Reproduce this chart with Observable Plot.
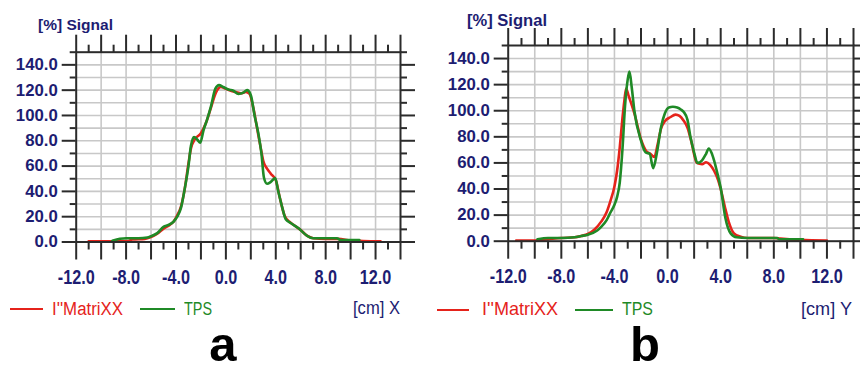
<!DOCTYPE html>
<html>
<head>
<meta charset="utf-8">
<script src="https://cdn.jsdelivr.net/npm/d3@7"></script>
<script src="https://cdn.jsdelivr.net/npm/@observablehq/plot@0.6"></script>
<style>
html, body { margin: 0; padding: 0; background: #fff; }
#wrap { position: relative; width: 860px; height: 372px; overflow: hidden; background: #fff; }
.abs { position: absolute; white-space: nowrap; line-height: 1; transform-origin: 0 50%; }
.panel { position: absolute; top: 0; }
.leg { position: absolute; height: 2px; }
</style>
</head>
<body>
<div id="wrap"></div>
<script>
// ---------- data: panel a (X profile) ----------
const xA_matrixx = [-11.0, -9.0, -7.8, -7.5, -6.5, -6.0, -5.5, -5.0, -4.5, -4.2, -3.9, -3.6, -3.3, -3.0, -2.8, -2.5, -2.0, -1.6, -1.2, -0.8, -0.4, 0.0, 0.4, 0.8, 1.2, 1.6, 1.9, 2.2, 2.5, 2.8, 3.0, 3.3, 3.6, 4.0, 4.3, 4.7, 5.1, 5.5, 6.0, 6.5, 7.0, 8.0, 9.0, 10.0, 11.0, 12.4];
const vA_matrixx = [0.5, 0.5, 0.8, 2.0, 2.5, 4.0, 6.5, 10.5, 13.5, 16, 21, 28, 42, 62, 74, 81, 86, 94, 106, 118, 122.5, 121, 119.5, 118.5, 117.5, 118.5, 117, 106, 90, 74, 64, 58, 54, 49, 36, 21, 16, 13, 9.5, 5, 3, 2.5, 2.5, 1.2, 0.8, 0.5];
const xA_tps = [-9.1, -8.5, -8.0, -7.0, -6.3, -6.0, -5.5, -5.0, -4.6, -4.2, -3.9, -3.6, -3.3, -3.0, -2.8, -2.55, -2.3, -2.05, -1.8, -1.5, -1.2, -0.85, -0.55, -0.2, 0.2, 0.6, 1.0, 1.4, 1.7, 2.0, 2.3, 2.6, 2.85, 3.05, 3.3, 3.6, 3.95, 4.2, 4.5, 4.8, 5.2, 5.8, 6.5, 7.0, 8.0, 8.9, 9.2, 10.7];
const vA_tps = [1.0, 2.5, 3.0, 3.0, 3.5, 4.5, 7.0, 12, 13.5, 16, 20, 27, 42, 60, 76, 83, 81, 78.5, 88, 97, 107, 121, 124, 122.5, 120.5, 119.5, 117, 118, 120, 116, 100, 86, 70, 51, 46, 47.5, 50.5, 40, 28, 18, 15, 11, 5, 3, 3, 3, 1.5, 1.5];

// ---------- data: panel b (Y profile) ----------
const xB_matrixx = [-11.4, -10.0, -9.0, -8.0, -7.0, -6.5, -6.0, -5.5, -5.0, -4.6, -4.3, -4.0, -3.8, -3.6, -3.4, -3.25, -3.12, -2.95, -2.75, -2.5, -2.0, -1.6, -1.3, -1.0, -0.75, -0.5, -0.2, 0.2, 0.6, 0.9, 1.2, 1.5, 1.8, 2.2, 2.6, 2.9, 3.2, 3.5, 3.8, 4.0, 4.3, 4.6, 5.0, 5.5, 6.0, 7.0, 8.0, 8.5, 10.0, 12.0];
const vB_matrixx = [0.5, 0.5, 1.5, 2.5, 3.0, 4.0, 5.5, 9.0, 15, 22, 31, 42, 54, 72, 94, 108, 117, 112, 106, 98, 78, 69, 67, 64.5, 74, 86, 92, 95, 97, 96, 92.5, 87, 76, 60, 59, 60.5, 58.5, 54, 47, 40, 27, 15, 6, 3.5, 2.5, 2.5, 2.5, 2, 1, 0.5];
const xB_tps = [-9.8, -9.0, -8.0, -7.0, -6.5, -6.0, -5.3, -5.0, -4.6, -4.3, -4.0, -3.8, -3.6, -3.4, -3.2, -3.0, -2.87, -2.7, -2.5, -2.0, -1.65, -1.35, -1.08, -0.8, -0.5, -0.2, 0.1, 0.4, 0.72, 1.0, 1.22, 1.5, 1.72, 2.0, 2.25, 2.6, 2.9, 3.1, 3.3, 3.5, 3.75, 4.0, 4.35, 4.75, 5.2, 6.0, 7.0, 8.25, 8.4, 10.2];
const vB_tps = [1.5, 2.5, 2.5, 3.0, 4.0, 5.0, 8.2, 11, 16, 22, 28, 34, 45, 70, 104, 124, 130, 118, 100, 77, 68, 67, 56, 68, 87, 98, 102.5, 103, 102.5, 101, 99, 93, 80, 68, 60, 62, 67, 71, 68, 62, 52, 41, 18, 6, 3, 2.5, 2.5, 2.5, 1.5, 1.5];

// ---------- ticks & labels ----------
const xLabelTicks = [-12, -8, -4, 0, 4, 8, 12];
const xMajorTicks = [-12, -10, -8, -6, -4, -2, 0, 2, 4, 6, 8, 10, 12, 14];
const xMinorTicks = [-11, -9, -7, -5, -3, -1, 1, 3, 5, 7, 9, 11, 13];
const xGridTicks = [-10, -8, -6, -4, -2, 0, 2, 4, 6, 8, 10, 12];
const yMajorTicks = [0, 20, 40, 60, 80, 100, 120, 140];
const yMinorTicks = [10, 30, 50, 70, 90, 110, 130, 150];
const yGridTicks = [10, 20, 30, 40, 50, 60, 70, 80, 90, 100, 110, 120, 130, 140];
const seriesNames = ["I''MatriXX", "TPS"];
const yTitle = "[%] Signal";
const xTitles = ["[cm] X", "[cm] Y"];
const panelLetters = ["a", "b"];

const NAVY = "#1d1d72", DARK = "#2b2b2b", RED = "#e5231b", GREEN = "#1f8a26", GRID = "#c8c8c8";
const FONT = "'Liberation Sans', Arial, sans-serif";

const toRows = (xs, vs) => xs.map((x, i) => ({x, v: vs[i]}));

function panel(mx, tps, m) {
  const tk = {stroke: DARK, strokeWidth: 2, label: null, tickFormat: () => ""};
  const svg = Plot.plot({
    width: 430, height: 290,
    marginLeft: m.left, marginRight: m.right, marginTop: m.top, marginBottom: m.bottom,
    x: {domain: [-12, 14], label: null},
    y: {domain: [0, 150], label: null},
    style: {background: "none", overflow: "visible"},
    marks: [
      Plot.gridX(xGridTicks, {stroke: GRID, strokeOpacity: 1, strokeWidth: 1.6}),
      Plot.gridY(yGridTicks, {stroke: GRID, strokeOpacity: 1, strokeWidth: 1.6}),
      Plot.line(mx, {x: "x", y: "v", stroke: RED, strokeWidth: 2.6, curve: "monotone-x"}),
      Plot.line(tps, {x: "x", y: "v", stroke: GREEN, strokeWidth: 2.6, curve: "monotone-x"}),
      Plot.frame({stroke: DARK, strokeWidth: 2}),
      Plot.axisX(xMajorTicks, {anchor: "top", tickSize: 18, ...tk}),
      Plot.axisX(xMinorTicks, {anchor: "top", tickSize: 8, ...tk}),
      Plot.axisX(xMajorTicks, {anchor: "bottom", tickSize: 18, ...tk}),
      Plot.axisX(xMinorTicks, {anchor: "bottom", tickSize: 8, ...tk}),
      Plot.axisX(xLabelTicks, {anchor: "bottom", tickSize: 0, tickPadding: 28, tickFormat: d => d.toFixed(1),
        fill: NAVY, color: NAVY, fontFamily: FONT, fontSize: 20, fontWeight: "bold", label: null}),
      Plot.axisY(yMajorTicks, {anchor: "left", tickSize: 14, tickPadding: 4.4, tickFormat: d => d.toFixed(1),
        fill: NAVY, color: NAVY, stroke: DARK, strokeWidth: 2, fontFamily: FONT, fontSize: 16.8, fontWeight: "bold", label: null}),
      Plot.axisY(yMinorTicks, {anchor: "left", tickSize: 6, ...tk}),
      Plot.axisY(yMajorTicks, {anchor: "right", tickSize: 14, ...tk}),
      Plot.axisY(yMinorTicks, {anchor: "right", tickSize: 6, ...tk})
    ]
  });
  // condense the x tick labels horizontally (the original uses a narrow face)
  svg.querySelectorAll('g[aria-label="x-axis tick label"] text').forEach(t => {
    if (!t.textContent) return;
    const tr = t.getAttribute("transform");
    if (tr && !t.hasAttribute("x")) t.setAttribute("transform", tr + " scale(0.81,1)");
  });
  return svg;
}

const wrap = document.getElementById("wrap");

// place a text by its baseline; if a target width is given, squeeze it horizontally to fit
function addText(txt, x, base, size, {weight = "normal", color = NAVY, width = null, anchor = "start", lh = 1} = {}) {
  const d = document.createElement("div");
  d.className = "abs";
  d.textContent = txt;
  d.style.fontSize = size + "px";
  d.style.fontFamily = FONT;
  d.style.fontWeight = weight;
  d.style.color = color;
  d.style.lineHeight = lh;
  d.style.top = (base - ((lh - 1.117) / 2 + 0.905) * size) + "px";
  wrap.appendChild(d);
  const w = d.getBoundingClientRect().width;
  const k = width ? width / w : 1;
  const realW = w * k;
  let left = x;
  if (anchor === "middle") left = x - realW / 2;
  else if (anchor === "end") left = x - realW;
  d.style.left = left + "px";
  if (k !== 1) d.style.transform = `scaleX(${k})`;
}
function addLine(x1, x2, y, color) {
  const d = document.createElement("div");
  d.className = "leg";
  d.style.left = x1 + "px"; d.style.width = (x2 - x1) + "px";
  d.style.top = (y - 1) + "px"; d.style.background = color;
  wrap.appendChild(d);
}

const pa = panel(toRows(xA_matrixx, vA_matrixx), toRows(xA_tps, vA_tps), {left: 75.7, right: 30, top: 51.7, bottom: 48.5});
pa.classList.add("panel"); pa.style.left = "0px";
wrap.appendChild(pa);
const pb = panel(toRows(xB_matrixx, vB_matrixx), toRows(xB_tps, vB_tps), {left: 77.7, right: 7, top: 45, bottom: 49.3});
pb.classList.add("panel"); pb.style.left = "430px";
wrap.appendChild(pb);

// panel a texts
addText(yTitle, 38, 30.5, 15.5, {weight: "bold", width: 75});
addLine(10, 43, 309, RED);
addText(seriesNames[0], 52, 315, 18, {color: RED, width: 71});
addLine(140, 175, 309, GREEN);
addText(seriesNames[1], 184, 315, 18, {color: GREEN, width: 28});
addText(xTitles[0], 353, 314.5, 18.5, {width: 47});
addText(panelLetters[0], 223, 361.5, 49, {weight: "bold", color: "#000", anchor: "middle"});

// panel b texts
addText(yTitle, 467, 25.5, 16.5, {weight: "bold", width: 80});
addLine(437, 469, 310, RED);
addText(seriesNames[0], 482, 315.5, 18.5, {color: RED, width: 76});
addLine(575, 613, 310, GREEN);
addText(seriesNames[1], 622, 315.5, 18.5, {color: GREEN, width: 31});
addText(xTitles[1], 801, 315, 19, {width: 51});
addText(panelLetters[1], 645, 361.5, 49, {weight: "bold", color: "#000", anchor: "middle"});
</script>
</body>
</html>
